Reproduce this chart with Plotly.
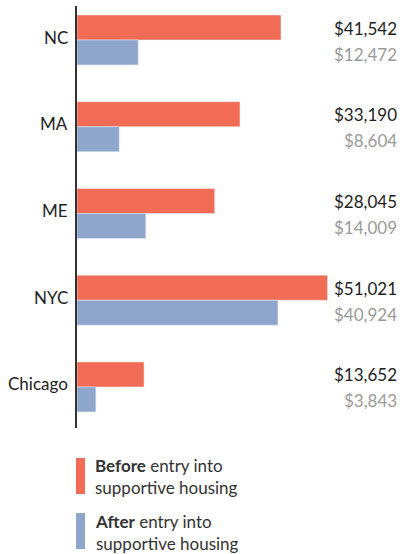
import plotly.graph_objects as go

categories = ["NC", "MA", "ME", "NYC", "Chicago"]
before = [41542, 33190, 28045, 51021, 13652]
after = [12472, 8604, 14009, 40924, 3843]

C_BEFORE = "#f26b55"
C_AFTER = "#8fa6cc"

W, H = 403, 554
L, R, T, B = 77, 5, 6, 126
PW, PH = W - L - R, H - T - B
FS = 17


def px(x):
    return (x - L) / PW


def py(y):
    return (H - B - y) / PH


fig = go.Figure()
fig.add_trace(go.Bar(y=categories, x=before, orientation="h", marker_color=C_BEFORE,
                     name="Before", showlegend=False, hoverinfo="skip"))
fig.add_trace(go.Bar(y=categories, x=after, orientation="h", marker_color=C_AFTER,
                     name="After", showlegend=False, hoverinfo="skip"))

annotations = []
for c, b, a in zip(categories, before, after):
    annotations.append(dict(x=px(70), xref="paper", y=c, yref="y", xanchor="right", yanchor="middle",
                            text=c, showarrow=False, yshift=3,
                            font=dict(size=FS, color="#222222", family="Lato")))
    annotations.append(dict(x=px(399), xref="paper", y=c, yref="y", xanchor="right", yanchor="middle",
                            text=f"${b:,}", showarrow=False, yshift=12,
                            font=dict(size=FS, color="#222222", family="Lato")))
    annotations.append(dict(x=px(399), xref="paper", y=c, yref="y", xanchor="right", yanchor="middle",
                            text=f"${a:,}", showarrow=False, yshift=-14,
                            font=dict(size=FS, color="#9a9a9a", family="Lato")))

legend_items = [
    ("<b>Before</b> entry into<br>supportive housing", C_BEFORE, 458, 494, 477),
    ("<b>After</b> entry into<br>supportive housing", C_AFTER, 513, 549, 532),
]
shapes = []
for txt, col, y0, y1, ty in legend_items:
    shapes.append(dict(type="rect", xref="paper", yref="paper", x0=px(76), x1=px(85),
                       y0=py(y1), y1=py(y0), fillcolor=col, line=dict(width=0)))
    annotations.append(dict(x=px(93), xref="paper", y=py(ty), yref="paper", xanchor="left",
                            yanchor="middle", text=txt, showarrow=False, align="left",
                            font=dict(size=FS, color="#333333", family="Lato")))

fig.update_layout(
    width=W, height=H,
    margin=dict(l=L, r=R, t=T, b=B),
    barmode="group", bargap=0.424, bargroupgap=0,
    plot_bgcolor="white", paper_bgcolor="white",
    font=dict(family="Lato", size=FS, color="#222222"),
    xaxis=dict(range=[0, 65377], showgrid=False, zeroline=False, showticklabels=False,
               showline=False, fixedrange=True),
    yaxis=dict(type="category", range=[4.473, -0.392], showgrid=False, zeroline=False,
               showline=True, linecolor="#333333", linewidth=1.5, ticks="",
               showticklabels=False, fixedrange=True),
    annotations=annotations,
    shapes=shapes,
)

fig.write_html("out.html")
